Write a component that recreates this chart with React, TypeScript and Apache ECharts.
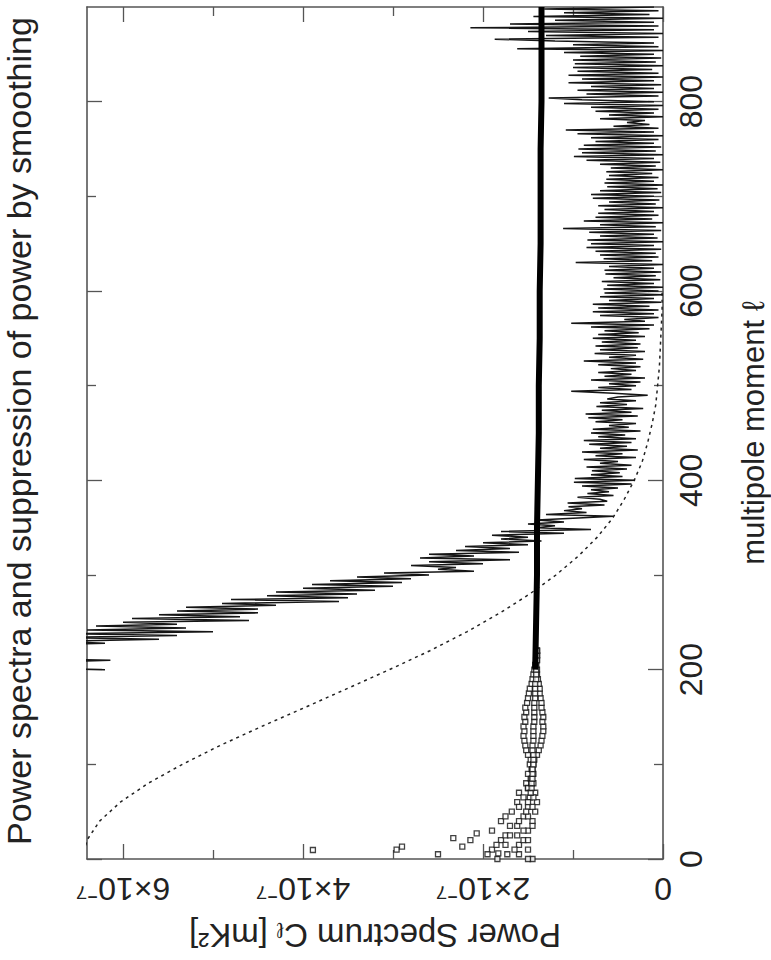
import React, { useEffect, useRef } from 'react';
import * as echarts from 'echarts';

const FONT = '"Liberation Sans", Arial, Helvetica, sans-serif';
const INK = '#222';
const FRAME = '#555';

// ---- texts ----
const titleText = 'Power spectra and suppression of power by smoothing';
const powerAxisName = 'Power Spectrum C{sub|ℓ} [mK²]';
const multipoleAxisName = 'multipole moment ℓ';

// ---- axes (power in units of 1e-7 mK^2) ----
const powerMin = 0;
const powerMax = 6.4;
const powerTickLabels = [0, 2, 4, 6];
const powerMinorTicks = [1, 3, 5];
const multipoleMin = 0;
const multipoleMax = 900;
const multipoleTickLabels = [0, 200, 400, 600, 800];
const multipoleMinorTicks = [100, 300, 500, 700];

// ---- noisy (deconvolved) spectrum, l = 200, 202, ..., 900 ----
const noisyStartL = 200;
const noisyStepL = 2;
const noisyPower = [
  6.2, 7.1, 6.9, 7.3, 6.8, 6.14, 7.2, 6.9, 7.4, 7.0,
  6.9, 7.1, 6.5, 7.0, 6.2, 6.8, 5.6, 6.7, 5.4, 6.6,
  5.0, 6.4, 5.3, 6.3, 5.4, 6.0, 4.6, 5.9, 4.7, 5.6,
  4.5, 5.4, 4.5, 5.3, 4.3, 4.9, 3.6, 4.8, 3.5, 4.4,
  3.4, 4.3, 3.2, 4.0, 3.0, 3.9, 2.9, 3.7, 2.8, 3.4,
  2.6, 3.1, 2.1, 2.5, 2.3, 2.8, 2.0, 2.6, 1.7, 2.7,
  2.1, 2.6, 1.6, 2.3, 1.7, 2.2, 1.5, 2.0, 1.35, 1.8,
  1.5, 1.9, 1.1, 1.8, 0.8, 1.4, 1.2, 1.5, 1.1, 1.4,
  1.0, 0.55, 1.3, 0.85, 1.1, 0.9, 1.05, 0.65, 1.06, 0.62,
  0.7, 0.95, 0.55, 0.84, 0.6, 0.8, 0.5, 0.9, 0.35, 0.99,
  0.31, 0.98, 0.45, 0.8, 0.48, 0.79, 0.4, 0.85, 0.35, 0.7,
  0.5, 0.88, 0.3, 0.75, 0.45, 0.9, 0.28, 0.7, 0.4, 0.82,
  0.35, 0.88, 0.3, 0.72, 0.42, 0.8, 0.25, 0.78, 0.38, 0.6,
  0.3, 0.75, 0.45, 0.83, 0.28, 0.86, 0.35, 0.68, 0.22, 0.74,
  0.4, 0.7, 0.3, 0.62, 0.5, 0.17, 0.55, 1.02, 0.35, 0.72,
  0.3, 0.6, 0.25, 0.8, 0.2, 0.65, 0.35, 0.72, 0.3, 0.58,
  0.25, 0.72, 0.3, 0.88, 0.22, 0.6, 0.3, 0.76, 0.2, 0.7,
  0.28, 0.75, 0.25, 0.68, 0.3, 0.78, 0.2, 0.72, 0.27, 0.65,
  0.15, 0.8, 0.1, 1.02, 0.2, 0.43, 0.05, 0.7, 0.1, 0.78,
  0.05, 0.72, 0.15, 0.78, 0.02, 0.6, 0.1, 0.7, 0.0, 0.65,
  0.05, 0.66, 0.0, 0.62, 0.1, 0.68, 0.03, 0.55, 0.08, 0.64,
  0.02, 0.65, 0.1, 0.6, 0.0, 0.97, 0.12, 0.66, 0.05, 0.7,
  0.08, 0.75, 0.02, 0.85, 0.1, 0.8, 0.0, 0.84, 0.06, 0.7,
  0.1, 0.82, 0.02, 1.11, 0.08, 0.7, 0.0, 0.88, 0.12, 0.75,
  0.05, 0.72, 0.1, 0.65, 0.0, 0.72, 0.08, 0.6, 0.04, 0.78,
  0.1, 0.8, 0.02, 0.7, 0.06, 0.62, 0.0, 0.65, 0.1, 0.63,
  0.05, 0.6, 0.12, 0.63, 0.0, 0.58, 0.08, 0.7, 0.03, 0.85,
  0.1, 0.99, 0.0, 0.9, 0.08, 0.94, 0.02, 0.88, 0.1, 0.75,
  0.05, 0.8, 0.0, 0.95, 0.1, 1.08, 0.05, 0.55, 0.15, 0.4,
  0.2, 0.7, 0.0, 0.6, 0.1, 0.75, 0.05, 0.8, 0.0, 1.1,
  0.1, 0.9, 1.27, 0.05, 0.85, 0.0, 0.95, 0.1, 0.8, 0.02,
  1.05, 0.1, 0.9, 0.0, 1.05, 0.05, 0.95, 0.12, 1.0, 0.0,
  0.98, 0.08, 1.0, 0.02, 0.92, 0.1, 1.1, 0.0, 1.62, 0.05,
  1.0, 0.1, 1.2, 1.87, 0.05, 1.3, 0.0, 1.5, 0.1, 2.14,
  0.05, 1.7, 0.1, 1.2, 0.0, 1.44, 0.15, 1.1, 0.05, 1.32,
  0.1,
];

// ---- smoothed spectrum (thick line) ----
const thickL = [200, 250, 300, 350, 400, 450, 500, 550, 600, 650, 700, 750, 800, 850, 900];
const thickPower = [1.42, 1.41, 1.40, 1.40, 1.39, 1.38, 1.38, 1.37, 1.37, 1.36, 1.36, 1.36, 1.35, 1.35, 1.35];

// ---- low-l realisations (open squares), l = 0, 5, ..., 220 ----
const realStartL = 0;
const realStepL = 5;
const realA = [
  1.84, 1.73, 1.9, 1.6, 1.8, 1.75, 1.9, 1.62, 1.8, 1.55,
  1.68, 1.5, 1.62, 1.48, 1.6, 1.5, 1.52, 1.47, 1.5, 1.46,
  1.48, 1.47, 1.5, 1.52, 1.53, 1.54, 1.55, 1.54, 1.55, 1.53,
  1.54, 1.52, 1.53, 1.51, 1.5, 1.49, 1.48, 1.46, 1.45, 1.44,
  1.43, 1.42, 1.41, 1.40, 1.40,
];
const realB = [
  1.45, 1.6, 1.5, 1.85, 1.55, 1.7, 1.5, 1.7, 1.45, 1.75,
  1.42, 1.6, 1.4, 1.55, 1.42, 1.5, 1.44, 1.46, 1.44, 1.45,
  1.44, 1.43, 1.4, 1.38, 1.36, 1.35, 1.34, 1.33, 1.33, 1.34,
  1.33, 1.34, 1.35, 1.35, 1.36, 1.37, 1.37, 1.38, 1.39, 1.4,
  1.4, 1.41, 1.4, 1.4, 1.4,
];
const realC = [
  1.5, 1.95, 1.65, 1.75, 1.5, 1.62, 1.55, 1.45, 1.6, 1.5,
  1.52, 1.45, 1.5, 1.44, 1.47, 1.46, 1.46, 1.45, 1.45, 1.45,
  1.44, 1.44, 1.44, 1.45, 1.45, 1.44, 1.44, 1.44, 1.44, 1.43,
  1.43, 1.43, 1.43, 1.43, 1.42, 1.42, 1.42, 1.42, 1.41, 1.41,
  1.41, 1.41, 1.4, 1.4, 1.4,
];
const lowLCloudL = [9.5, 10, 13, 5, 22, 13, 20, 27, 6];
const lowLCloudP = [3.89, 2.96, 2.9, 2.5, 2.33, 2.23, 2.14, 2.07, 1.83];

// ---- beam / smoothing window (dashed) ----
const dashedL = [0, 20, 40, 60, 80, 100, 120, 140, 160, 180, 200, 220, 240, 260, 280, 300,
  320, 340, 360, 380, 400, 420, 440, 460, 480, 500, 520, 540, 560, 580, 600];
const dashedPower = [6.45, 6.40, 6.26, 6.03, 5.72, 5.34, 4.92, 4.46, 3.98, 3.51, 3.04, 2.59, 2.18,
  1.81, 1.48, 1.19, 0.94, 0.73, 0.56, 0.43, 0.32, 0.23, 0.17, 0.12, 0.08, 0.06, 0.04, 0.03,
  0.02, 0.01, 0.01];

const tickLine = { color: FRAME, width: 1.3 };

function powerAxis(position: string, ticks: number[], len: number, labels: boolean, line: boolean) {
  return {
    type: 'value',
    min: powerMin,
    max: powerMax,
    inverse: true,
    position,
    axisLine: { show: line, onZero: false, lineStyle: { color: FRAME, width: 1.6 } },
    axisTick: { show: true, inside: true, length: len, customValues: ticks, lineStyle: tickLine },
    axisLabel: labels
      ? {
          show: true,
          customValues: powerTickLabels,
          rotate: 180,
          margin: 14,
          fontSize: 32,
          fontFamily: FONT,
          color: INK,
          formatter: (v: number) => (v === 0 ? '0' : `${v}×10⁻⁷`),
        }
      : { show: false },
    splitLine: { show: false },
  } as any;
}

function multipoleAxis(position: string, ticks: number[], len: number, labels: boolean, line: boolean) {
  return {
    type: 'value',
    min: multipoleMin,
    max: multipoleMax,
    position,
    axisLine: { show: line, onZero: false, lineStyle: { color: FRAME, width: 1.6 } },
    axisTick: { show: true, inside: true, length: len, customValues: ticks, lineStyle: tickLine },
    axisLabel: labels
      ? {
          show: true,
          customValues: multipoleTickLabels,
          rotate: 90,
          margin: 12,
          fontSize: 32,
          fontFamily: FONT,
          color: INK,
          formatter: (v: number) => String(v),
        }
      : { show: false },
    splitLine: { show: false },
  } as any;
}

const squareStyle = { color: '#fff', borderColor: '#111', borderWidth: 1.3 };

function buildOption() {
  const xMain = powerAxis('bottom', powerTickLabels, 15, true, true);
  xMain.name = powerAxisName;
  xMain.nameLocation = 'middle';
  xMain.nameRotate = 180;
  xMain.nameGap = 60;
  xMain.nameTextStyle = {
    fontSize: 33,
    fontFamily: FONT,
    color: INK,
    rich: { sub: { fontSize: 22, lineHeight: 10, verticalAlign: 'bottom', fontFamily: FONT, color: INK } },
  };

  const yMain = multipoleAxis('right', multipoleTickLabels, 15, true, true);
  yMain.name = multipoleAxisName;
  yMain.nameLocation = 'middle';
  yMain.nameRotate = 90;
  yMain.nameGap = 75;
  yMain.nameTextStyle = { fontSize: 31, fontFamily: FONT, color: INK };

  const realSeries = (vals: number[], name: string) => ({
    type: 'scatter',
    name,
    data: vals.map((p, i) => [p, realStartL + i * realStepL]),
    symbol: 'rect',
    symbolSize: 5,
    itemStyle: squareStyle,
    z: 4,
  });

  return {
    animation: false,
    backgroundColor: '#fff',
    textStyle: { fontFamily: FONT },
    grid: { left: 87, top: 7, width: 576, height: 852, outerBoundsMode: 'none', containLabel: false },
    xAxis: [
      xMain,
      powerAxis('bottom', powerMinorTicks, 9, false, false),
      powerAxis('top', powerTickLabels, 15, false, true),
      powerAxis('top', powerMinorTicks, 9, false, false),
    ],
    yAxis: [
      yMain,
      multipoleAxis('right', multipoleMinorTicks, 9, false, false),
      multipoleAxis('left', multipoleTickLabels, 15, false, true),
      multipoleAxis('left', multipoleMinorTicks, 9, false, false),
    ],
    graphic: [
      {
        type: 'text',
        x: 19,
        y: 431,
        rotation: Math.PI / 2,
        style: {
          text: titleText,
          fontSize: 34,
          fontFamily: FONT,
          fill: INK,
          align: 'center',
          verticalAlign: 'middle',
        },
      },
    ],
    series: [
      {
        type: 'line',
        name: 'smoothing window',
        data: dashedL.map((l, i) => [dashedPower[i], l]),
        showSymbol: false,
        symbol: 'none',
        lineStyle: { type: [3, 4], width: 1.5, color: '#222' },
        z: 2,
      },
      {
        type: 'line',
        name: 'deconvolved spectrum',
        data: noisyPower.map((p, i) => [p, noisyStartL + i * noisyStepL]),
        showSymbol: false,
        symbol: 'none',
        lineStyle: { width: 1.5, color: '#151515' },
        z: 3,
      },
      {
        type: 'line',
        name: 'smoothed spectrum',
        data: thickL.map((l, i) => [thickPower[i], l]),
        showSymbol: false,
        symbol: 'none',
        lineStyle: { width: 6, color: '#000' },
        z: 5,
      },
      realSeries(realA, 'realisation A'),
      realSeries(realB, 'realisation B'),
      realSeries(realC, 'realisation C'),
      {
        type: 'scatter',
        name: 'low-l scatter',
        data: lowLCloudL.map((l, i) => [lowLCloudP[i], l]),
        symbol: 'rect',
        symbolSize: 5,
        itemStyle: squareStyle,
        z: 4,
      },
    ],
  };
}

export default function App() {
  const ref = useRef<HTMLDivElement>(null);
  useEffect(() => {
    document.body.style.margin = '0';
    document.body.style.overflow = 'hidden';
    const chart = echarts.init(ref.current as HTMLDivElement, undefined, { renderer: 'svg' });
    chart.setOption(buildOption() as any);
    return () => chart.dispose();
  }, []);
  return <div ref={ref} style={{ width: 771, height: 960, background: '#fff' }} />;
}
